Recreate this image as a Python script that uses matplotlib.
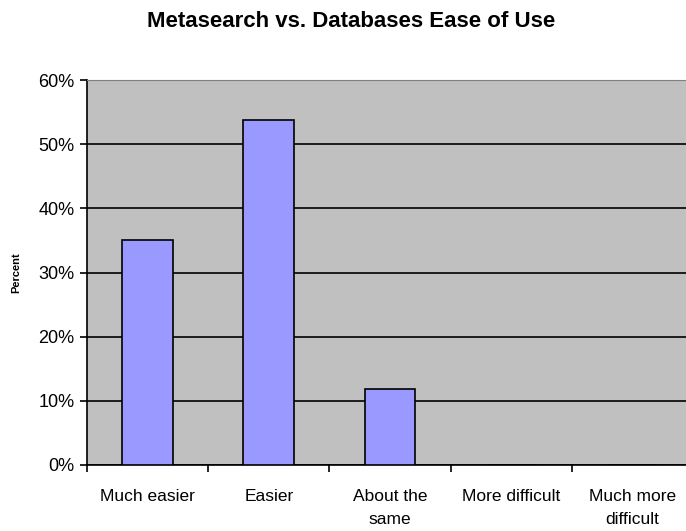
import numpy as np
import matplotlib.pyplot as plt
from matplotlib.ticker import PercentFormatter

plt.rcParams['font.family'] = ['Liberation Sans', 'DejaVu Sans']

# Data ------------------------------------------------------------------
categories = ['Much easier', 'Easier', 'About the\nsame', 'More difficult', 'Much more\ndifficult']
percent = [35.0, 53.7, 11.9, 0.0, 0.0]

# Figure ----------------------------------------------------------------
fig = plt.figure(figsize=(6.86, 5.31), dpi=100)
ax = fig.add_axes([0.1268, 0.1243, 0.8834, 0.725])
ax.set_facecolor('#C0C0C0')

x = np.arange(len(categories))
ax.bar(x, percent, width=0.42, color='#9999FF', edgecolor='#000000',
       linewidth=1.2, zorder=3)

ax.set_xlim(-0.5, len(categories) - 0.5)
ax.set_ylim(0, 60)
ax.set_yticks(np.arange(0, 61, 10))
ax.yaxis.set_major_formatter(PercentFormatter(decimals=0))
ax.grid(axis='y', color='black', linewidth=1.2, zorder=1)

# ticks on category boundaries, labels in the middle
ax.set_xticks(np.arange(-0.5, len(categories), 1))
ax.set_xticklabels([])
ax.set_xticks(x, minor=True)
ax.set_xticklabels(categories, minor=True, fontsize=12.5, linespacing=1.7)
ax.tick_params(axis='x', which='minor', length=0, pad=17)
ax.tick_params(axis='x', which='major', length=5, width=1.2)
ax.tick_params(axis='y', length=5, width=1.2, labelsize=13, pad=4)

ax.spines['top'].set_color('#808080')
ax.spines['right'].set_visible(False)
for s in ['left', 'bottom']:
    ax.spines[s].set_linewidth(1.2)

ax.set_ylabel('Percent', fontsize=8, fontweight='bold', labelpad=12)
fig.suptitle('Metasearch vs. Databases Ease of Use', fontsize=16,
             fontweight='bold', x=0.512, y=0.98)

fig.savefig('out.png', dpi=100)
